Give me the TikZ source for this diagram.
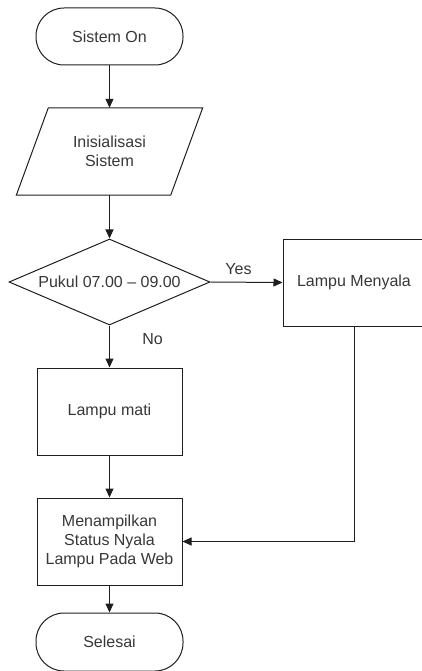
\documentclass[tikz,border=0pt]{standalone}
\usepackage{fontspec}
\setmainfont{Liberation Sans}
\usetikzlibrary{shapes.geometric,arrows.meta,positioning,calc}
\definecolor{txt}{RGB}{55,55,55}
\definecolor{ln}{RGB}{30,30,30}
\begin{document}
\begin{tikzpicture}[x=1pt,y=-1pt,
  every node/.style={font=\fontsize{16}{19.3}\selectfont, text=txt, align=center},
  term/.style={draw=ln, line width=1pt, rectangle, rounded corners=28pt, minimum width=147pt, minimum height=57pt, inner sep=0pt},
  procbox/.style={draw=ln, line width=1pt, rectangle, minimum width=145pt, minimum height=87pt, inner sep=0pt},
  decis/.style={draw=ln, line width=1pt, diamond, aspect=2.34, minimum width=201pt, minimum height=86pt, inner sep=0pt},
  arr/.style={draw=ln, line width=1pt, -{Triangle[length=9pt,width=8pt]}},
  lbl/.style={inner sep=0pt}
]
\useasboundingbox (0,0) rectangle (422,671);
\clip (0,0) rectangle (422,671);
\node[term] (start) at (109.5,36.5) {Sistem On};
\node[minimum width=104pt, minimum height=87pt, inner sep=0pt] (init) at (109.5,151.5) {Inisialisasi\\Sistem};
\draw[ln, line width=1pt] ($(init.north west)+(-9,0)$) -- ($(init.north east)+(41,0)$) -- ($(init.south east)+(9,0)$) -- ($(init.south west)+(-41,0)$) -- cycle;
\node[decis] (dec) at (109.5,282) {Pukul 07.00 -- 09.00};
\node[procbox, minimum width=142pt] (on) at (354,282.5) {Lampu Menyala};
\node[procbox] (off) at (109.5,411.5) {Lampu mati};
\node[procbox] (show) at (109.5,541.5) {Menampilkan\\Status Nyala\\Lampu Pada Web};
\node[term, minimum height=58pt] (end) at (109.5,642) {Selesai};
\draw[arr] (start) -- (init);
\draw[arr] (init) -- (dec);
\draw[arr] (dec.east) -- (on.west);
\draw[arr] (dec.south) -- (off.north);
\draw[arr] (off) -- (show);
\draw[arr] (on.south) |- (show.east);
\draw[arr] (show) -- (end);
\node[lbl] (yes) at (238.5,269) {Yes};
\node[lbl] (no) at (152.5,339.5) {No};
\end{tikzpicture}
\end{document}
